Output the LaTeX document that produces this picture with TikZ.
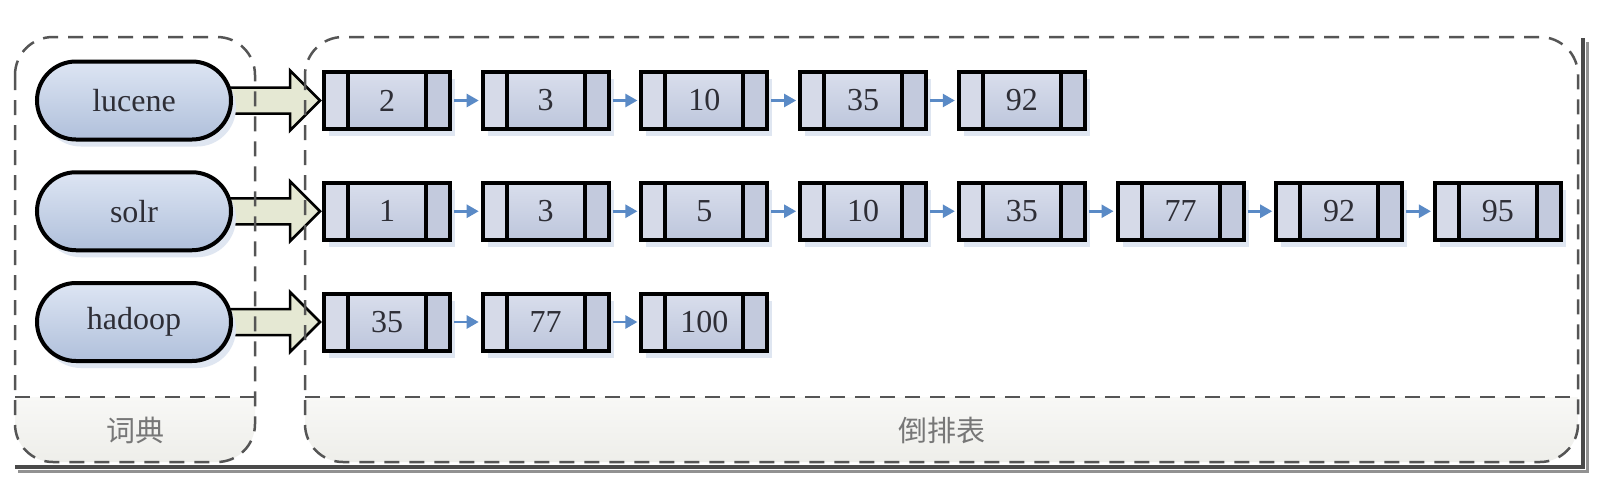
\documentclass[tikz,border=0pt]{standalone}
\usepackage{fontspec}
\setmainfont{Liberation Serif}
\newfontfamily\cjk{Noto Sans CJK SC}
\usetikzlibrary{arrows.meta,calc,shadows}
\definecolor{dashc}{HTML}{555555}
\definecolor{bandtop}{HTML}{F8F8F6}
\definecolor{bandbot}{HTML}{EEEEEA}
\definecolor{pilltop}{HTML}{DDE5F3}
\definecolor{pillbot}{HTML}{B0C0DB}
\definecolor{boxfill}{HTML}{D6DAE8}
\definecolor{boxright}{HTML}{C3CADD}
\definecolor{midtop}{HTML}{D9DEEC}
\definecolor{midbot}{HTML}{BDC6DC}
\definecolor{shadowc}{HTML}{DFE6F1}
\definecolor{linkc}{HTML}{5A8AC6}
\definecolor{bigarrow}{HTML}{E5E8D3}
\definecolor{txt}{HTML}{2E2E36}
\definecolor{labc}{HTML}{777777}
\definecolor{framec}{HTML}{4A4A4A}
\pgfdeclarelayer{bg}
\pgfdeclarelayer{mid}
\pgfsetlayers{bg,mid,main}
\tikzset{
  dashline/.style={draw=dashc, line width=2.5pt, dash pattern=on 15pt off 10pt},
  pill/.style={draw=black, line width=4pt, top color=pilltop, bottom color=pillbot,
    minimum width=194pt, minimum height=78pt, rounded corners=39pt,
    font=\fontsize{32}{37}\selectfont, text=txt,
    drop shadow={shadow xshift=5pt, shadow yshift=-7pt, fill=shadowc, opacity=1}},
  cell/.style={draw=black, line width=4pt, fill=boxfill,
    minimum width=126pt, minimum height=57pt, inner sep=0pt,
    font=\fontsize{32}{37}\selectfont, text=txt,
    drop shadow={shadow xshift=5pt, shadow yshift=-7pt, fill=shadowc, opacity=1},
    path picture={
      \fill[boxright] ([xshift=-24pt]path picture bounding box.north east) rectangle (path picture bounding box.south east);
      \shade[top color=midtop, bottom color=midbot] ([xshift=24pt]path picture bounding box.north west) rectangle ([xshift=-24pt]path picture bounding box.south east);
      \draw[line width=4pt] ([xshift=24pt]path picture bounding box.north west) -- ([xshift=24pt]path picture bounding box.south west);
      \draw[line width=4pt] ([xshift=-24pt]path picture bounding box.north east) -- ([xshift=-24pt]path picture bounding box.south east);
    }},
  link/.style={draw=linkc, line width=2.5pt, -{Triangle[length=12pt,width=13pt]}, shorten <=2pt, shorten >=2pt},
  fat/.style={draw=black, line width=2.5pt, fill=bigarrow, line join=miter},
  lab/.style={font=\cjk\fontsize{29}{34}\selectfont, text=labc}
}
\begin{document}
\begin{tikzpicture}[x=1pt,y=-1pt]
\useasboundingbox (0,0) rectangle (1602,490);
\begin{pgfonlayer}{bg}
\fill[white] (0,0) rectangle (1602,490);
% frame shadow
\draw[framec!60, line width=3pt] (1587,42) -- (1587,471) -- (18,471);
\draw[framec, line width=4pt] (1583,38) -- (1583,467) -- (15,467);
% container bands
\begin{scope}
\clip[rounded corners=38pt] (15,37) rectangle (255,462);
\shade[top color=bandtop, bottom color=bandbot] (15,397) rectangle (255,462);
\end{scope}
\begin{scope}
\clip[rounded corners=38pt] (305,37) rectangle (1578,462);
\shade[top color=bandtop, bottom color=bandbot] (305,397) rectangle (1578,462);
\end{scope}
\end{pgfonlayer}
% container outlines
\draw[dashline, rounded corners=38pt] (15,37) rectangle (255,462);
\draw[dashline] (15,397) -- (255,397);
\draw[dashline, rounded corners=38pt] (305,37) rectangle (1578,462);
\draw[dashline] (305,397) -- (1578,397);
\node[lab] (dict) at (135,430) {词典};
\node[lab] (inv) at (941.5,430) {倒排表};
% rows
\foreach \r/\w/\lst in {0/lucene/{2,3,10,35,92}, 1/solr/{1,3,5,10,35,77,92,95}, 2/hadoop/{35,77,100}} {
  \pgfmathsetmacro\yc{100.5+110.75*\r}
  \node[pill] (p\r) at (134,\yc) {\w};
  \foreach \v [count=\i from 0] in \lst {
    \pgfmathsetmacro\xc{387+158.7*\i}
    \node[cell] (b\r-\i) at (\xc,\yc) {\v};
  }
  \begin{pgfonlayer}{mid}
  \draw[fat] ([xshift=-10pt,yshift=13pt]p\r.east) -- ([xshift=-32pt,yshift=13pt]b\r-0.west)
     -- ([xshift=-32pt,yshift=30pt]b\r-0.west) -- ([xshift=-2pt]b\r-0.west)
     -- ([xshift=-32pt,yshift=-30pt]b\r-0.west) -- ([xshift=-32pt,yshift=-13pt]b\r-0.west)
     -- ([xshift=-10pt,yshift=-13pt]p\r.east) -- cycle;
  \end{pgfonlayer}
}
% links
\foreach \r/\n in {0/4, 1/7, 2/2} {
  \foreach \i in {1,...,\n} {
    \pgfmathtruncatemacro\j{\i-1}
    \draw[link] (b\r-\j.east) -- (b\r-\i.west);
  }
}
\end{tikzpicture}
\end{document}
